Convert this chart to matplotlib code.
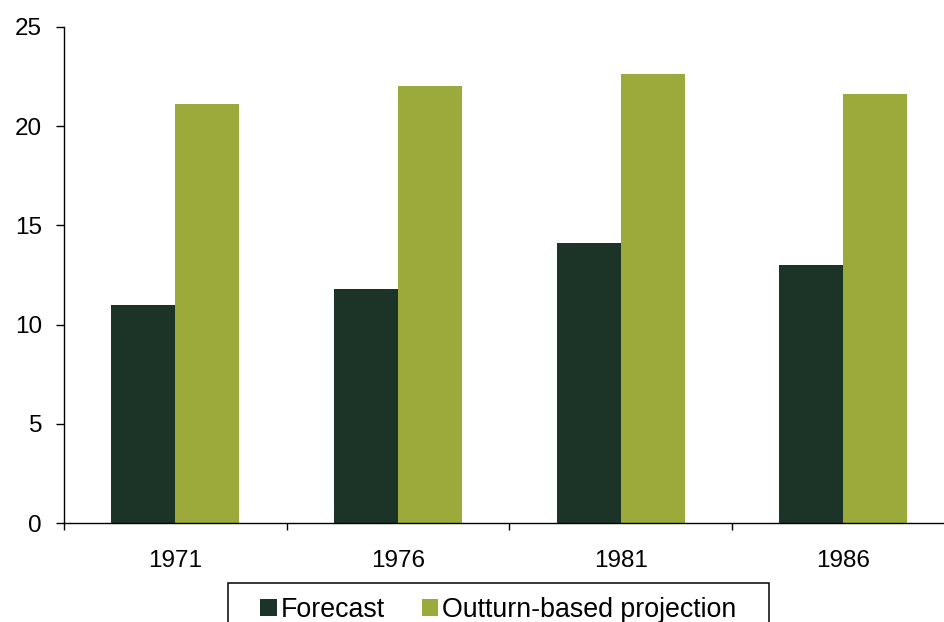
import matplotlib
matplotlib.use("Agg")
import matplotlib.pyplot as plt
import numpy as np
from matplotlib.patches import Patch, Rectangle

years = ["1971", "1976", "1981", "1986"]
forecast = [11.0, 11.8, 14.1, 13.0]
outturn = [21.1, 22.0, 22.6, 21.6]
series_names = ["Forecast", "Outturn-based projection"]
y_ticks = [0, 5, 10, 15, 20, 25]

dark = "#1c3327"
olive = "#9baa3a"

plt.rcParams["font.family"] = ["Liberation Sans", "DejaVu Sans"]

fig = plt.figure(figsize=(9.44, 6.22), dpi=100)
W, H = 944, 622
left, right = 64 / W, 954.8 / W
bottom, top = (H - 523.3) / H, (H - 26.7) / H
ax = fig.add_axes([left, bottom, right - left, top - bottom])

x = np.arange(len(years))
bw = 0.2875
ax.bar(x - bw / 2, forecast, bw, color=dark, linewidth=0, zorder=2)
ax.bar(x + bw / 2, outturn, bw, color=olive, linewidth=0, zorder=2)

ax.set_xlim(-0.5, len(years) - 0.5)
ax.set_ylim(0, 25)
ax.set_yticks(y_ticks)
ax.set_yticklabels([str(v) for v in y_ticks], fontsize=17.5)

# category boundaries carry the tick marks, centres carry the labels
ax.set_xticks(np.arange(-0.5, len(years), 1.0))
ax.set_xticklabels([])
ax.set_xticks(x, minor=True)
ax.set_xticklabels(years, minor=True, fontsize=17.5)
ax.tick_params(axis="x", which="major", direction="out", length=5, width=1.0)
ax.tick_params(axis="x", which="minor", length=0, pad=19)
ax.tick_params(axis="y", direction="out", length=5.8, width=1.0, pad=10)

for s in ["top", "right"]:
    ax.spines[s].set_visible(False)
for s in ["left", "bottom"]:
    ax.spines[s].set_linewidth(1.0)
    ax.spines[s].set_color("black")

# legend box, running off the bottom edge of the figure
box_l, box_r, box_t = 227.7, 769.3, 583.3
fig.patches.append(Rectangle((box_l / W, -0.05), (box_r - box_l) / W,
                             (H - box_t) / H + 0.05, transform=fig.transFigure,
                             fill=False, edgecolor="black", linewidth=1.1))

handles = [Patch(facecolor=dark, edgecolor="none"), Patch(facecolor=olive, edgecolor="none")]
leg = fig.legend(handles, series_names, ncol=2, loc="center",
                 bbox_to_anchor=((box_l + box_r) / 2 / W, (H - 610) / H),
                 fontsize=19.3, frameon=False,
                 handlelength=0.6, handleheight=0.6, handletextpad=0.15,
                 columnspacing=1.4, borderpad=0, borderaxespad=0)

fig.savefig("out.png", dpi=100)
